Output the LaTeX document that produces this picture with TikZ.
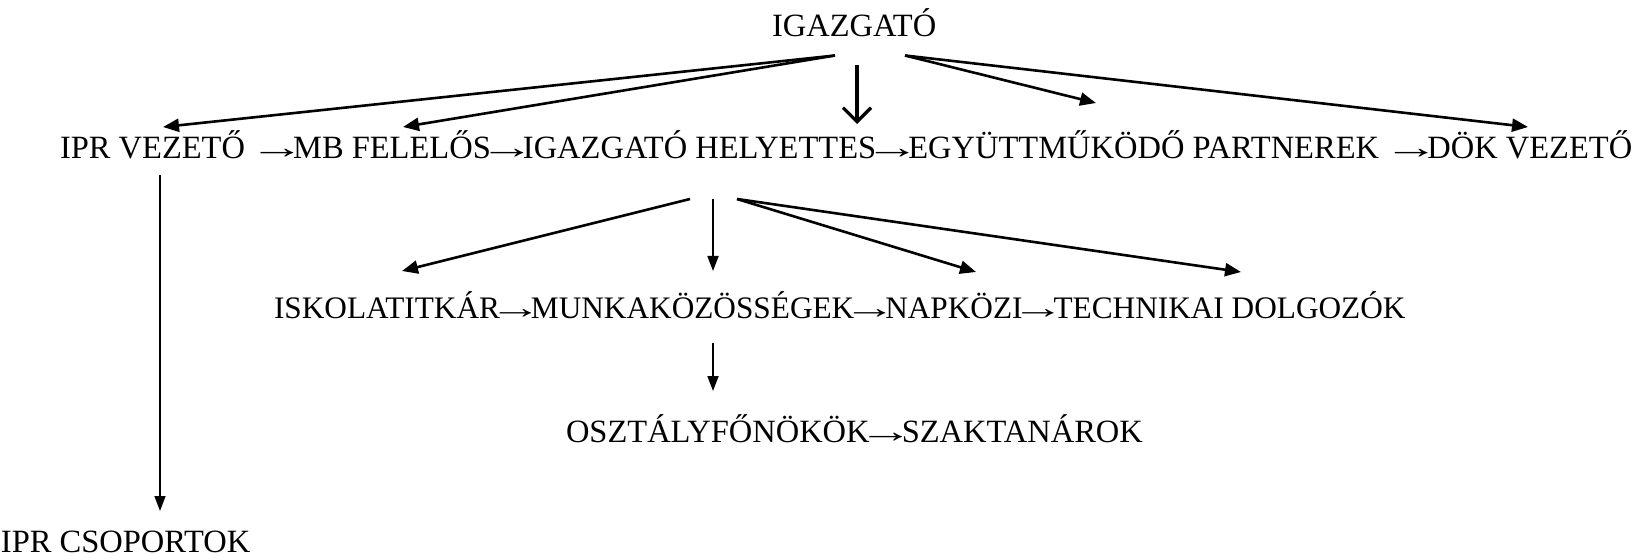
\documentclass[tikz,border=0pt]{standalone}
\usepackage{fontspec}
\usepackage{graphicx}
\setmainfont{Liberation Serif}
\usetikzlibrary{arrows.meta}
% a long text arrow, as wide as the letters around it
\newcommand{\toarr}{\makebox[0.987em][c]{\scalebox{1.7}[1]{→}}}
\begin{document}
\begin{tikzpicture}[x=1pt,y=-1pt,
  lbl/.style={inner sep=0pt, outer sep=0pt, anchor=base west,
              font=\fontsize{32.5}{38}\selectfont},
  lblsm/.style={lbl, font=\fontsize{31.3}{36}\selectfont},
  link/.style={line width=2.6pt, -{Triangle[length=16pt,width=13pt]}},
  drop/.style={line width=1.8pt, -{Triangle[length=15pt,width=11pt]}},
  lead/.style={line width=3.2pt,
               -{Straight Barb[length=14pt,width=28pt,line width=3.2pt]}}]
\useasboundingbox (0,0) rectangle (1642,556);

% labels
\node[lbl] (dir) at (772,37) {IGAZGATÓ};

\node[lbl] (ipr) at (60,159) {IPR VEZETŐ};
\node[lbl] (mb)  at ([xshift=16pt]ipr.base east) {\toarr MB FELELŐS};
\node[lbl] (ih)  at (mb.base east) {\toarr IGAZGATÓ HELYETTES};
\node[lbl] (egy) at (ih.base east) {\toarr EGYÜTTMŰKÖDŐ PARTNEREK};
\node[lbl] (dok) at ([xshift=16.2pt]egy.base east) {\toarr DÖK VEZETŐ};

\node[lblsm] (isk) at (274,319) {ISKOLATITKÁR};
\node[lblsm] (mk)  at (isk.base east) {\toarr MUNKAKÖZÖSSÉGEK};
\node[lblsm] (nap) at (mk.base east) {\toarr NAPKÖZI};
\node[lblsm] (tech) at (nap.base east) {\toarr TECHNIKAI DOLGOZÓK};

\node[lbl] (osz) at (566,442) {OSZTÁLYFŐNÖKÖK};
\node[lbl] (szak) at (osz.base east) {\toarr SZAKTANÁROK};

\node[lbl] (iprcs) at (1,552) {IPR CSOPORTOK};

% connector ends
\coordinate (dirL) at (835,55.5);
\coordinate (dirM) at (857,65);
\coordinate (dirR) at (905,55.5);
\coordinate (iprIn) at (163,127);
\coordinate (mbIn)  at (403,127);
\coordinate (ihIn)  at (857,124);
\coordinate (egyIn) at (1096,103);
\coordinate (dokIn) at (1528,127);

\coordinate (ihL) at (690,199);
\coordinate (ihM) at (713,199);
\coordinate (ihR) at (737,199);
\coordinate (iskIn)  at (402,271);
\coordinate (mkIn)   at (713,271);
\coordinate (napIn)  at (976,272);
\coordinate (techIn) at (1241,272);

\coordinate (mkOut) at (713,343);
\coordinate (oszIn) at (713,391);

\coordinate (iprOut) at (160,175);
\coordinate (csIn)   at (160,511);

% connectors
\draw[link] (dirL) -- (iprIn);
\draw[link] (dirL) -- (mbIn);
\draw[lead] (dirM) -- (ihIn);
\draw[link] (dirR) -- (egyIn);
\draw[link] (dirR) -- (dokIn);

\draw[link] (ihL) -- (iskIn);
\draw[drop] (ihM) -- (mkIn);
\draw[link] (ihR) -- (napIn);
\draw[link] (ihR) -- (techIn);

\draw[drop] (mkOut) -- (oszIn);
\draw[drop, line width=1.4pt] (iprOut) -- (csIn);
\end{tikzpicture}
\end{document}
